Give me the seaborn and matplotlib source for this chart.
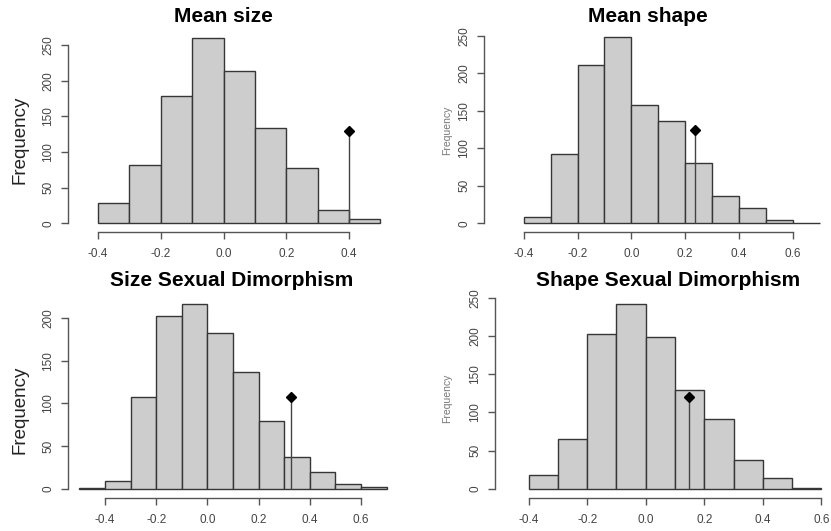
import matplotlib
matplotlib.use("Agg")
import matplotlib.pyplot as plt
import seaborn as sns
import numpy as np
import pandas as pd

# ---------------- data ----------------
titles = ["Mean size", "Mean shape", "Size Sexual Dimorphism", "Shape Sexual Dimorphism"]

edges_mean_size = [-0.4, -0.3, -0.2, -0.1, 0.0, 0.1, 0.2, 0.3, 0.4, 0.5]
counts_mean_size = [28, 82, 179, 260, 214, 134, 77, 19, 6]
obs_mean_size = (0.40, 130)

edges_mean_shape = [-0.4, -0.3, -0.2, -0.1, 0.0, 0.1, 0.2, 0.3, 0.4, 0.5, 0.6, 0.7]
counts_mean_shape = [9, 93, 211, 248, 158, 137, 80, 37, 20, 5, 1]
obs_mean_shape = (0.235, 124)

edges_size_sd = [-0.5, -0.4, -0.3, -0.2, -0.1, 0.0, 0.1, 0.2, 0.3, 0.4, 0.5, 0.6, 0.7]
counts_size_sd = [1, 9, 108, 202, 217, 182, 137, 79, 37, 20, 5, 2]
obs_size_sd = (0.325, 108)

edges_shape_sd = [-0.4, -0.3, -0.2, -0.1, 0.0, 0.1, 0.2, 0.3, 0.4, 0.5, 0.6]
counts_shape_sd = [18, 65, 203, 242, 198, 129, 91, 38, 14, 1]
obs_shape_sd = (0.147, 120)

xticks_1 = [-0.4, -0.2, 0.0, 0.2, 0.4]
xticks_2 = [-0.4, -0.2, 0.0, 0.2, 0.4, 0.6]
yticks_250 = [0, 50, 100, 150, 200, 250]
yticks_200 = [0, 50, 100, 150, 200]

# ---------------- layout ----------------
W, H = 831, 531
sns.set_theme(style="ticks")
plt.rcParams['font.family'] = ['Liberation Sans', 'DejaVu Sans']

fig = plt.figure(figsize=(W / 100, H / 100), dpi=100)
fig.patch.set_facecolor("white")

def rect(l, r, t, b):
    return [l / W, 1 - b / H, (r - l) / W, (b - t) / H]

panels = [
    dict(edges=edges_mean_size, counts=counts_mean_size, obs=obs_mean_size,
         title=titles[0], rect=rect(68, 400, 35, 232), xlim=(-0.4956, 0.5625),
         ylim=(-12.2, 264), xticks=xticks_1, yticks=yticks_250,
         tpos=(223, 17), lab=dict(x=20, y=140, big=True)),
    dict(edges=edges_mean_shape, counts=counts_mean_shape, obs=obs_mean_shape,
         title=titles[1], rect=rect(484, 828, 30, 232), xlim=(-0.5476, 0.731),
         ylim=(-11.6, 258), xticks=xticks_2, yticks=yticks_250,
         tpos=(648, 17), lab=dict(x=447, y=130, big=False)),
    dict(edges=edges_size_sd, counts=counts_size_sd, obs=obs_size_sd,
         title=titles[2], rect=rect(68, 395, 295, 498), xlim=(-0.5447, 0.733),
         ylim=(-10.9, 227), xticks=xticks_2, yticks=yticks_200,
         tpos=(232, 280), lab=dict(x=20, y=410, big=True)),
    dict(edges=edges_shape_sd, counts=counts_shape_sd, obs=obs_shape_sd,
         title=titles[3], rect=rect(495, 829, 290, 498), xlim=(-0.515, 0.626),
         ylim=(-12.0, 260), xticks=xticks_2, yticks=yticks_250,
         tpos=(668, 280), lab=dict(x=447, y=398, big=False)),
]

axis_col = "#555555"

for p in panels:
    ax = fig.add_axes(p["rect"])
    edges = [float(e) for e in p["edges"]]
    centers = [(a + b) / 2 for a, b in zip(edges[:-1], edges[1:])]
    df = pd.DataFrame({"x": centers, "w": [float(c) for c in p["counts"]]})
    sns.histplot(data=df, x="x", weights="w", bins=edges, stat="count",
                 color="#cdcdcd", edgecolor="#363636", linewidth=1.0, alpha=1.0,
                 ax=ax)
    ox, oy = p["obs"]
    ax.vlines(ox, 0, oy, color="#444444", linewidth=1.0, zorder=5)
    ax.plot([ox], [oy], marker="D", markersize=5.3, color="black", zorder=6)

    ax.set_xlim(*p["xlim"])
    ax.set_ylim(*p["ylim"])
    ax.set_xticks(p["xticks"])
    ax.set_xticklabels([f"{v:.1f}" for v in p["xticks"]])
    ax.set_yticks(p["yticks"])
    ax.set_yticklabels([str(v) for v in p["yticks"]], rotation=90, va="center")
    ax.set_xlabel("")
    ax.set_ylabel("")
    ax.set_facecolor("white")
    for s in ["top", "right"]:
        ax.spines[s].set_visible(False)
    ax.spines["bottom"].set_bounds(p["xticks"][0], p["xticks"][-1])
    ax.spines["left"].set_bounds(p["yticks"][0], p["yticks"][-1])
    for s in ["bottom", "left"]:
        ax.spines[s].set_color(axis_col)
        ax.spines[s].set_linewidth(1.0)
    ax.tick_params(axis="both", colors=axis_col, length=5, width=1.0,
                   labelsize=8.5, labelcolor="#444444")
    ax.tick_params(axis="x", pad=6.5)
    ax.tick_params(axis="y", pad=5)
    ax.grid(False)

    tx, ty = p["tpos"]
    fig.text(tx / W, 1 - ty / H, p["title"], ha="center", va="center",
             fontsize=15, fontweight="bold", color="black")
    lab = p["lab"]
    if lab["big"]:
        fig.text(lab["x"] / W, 1 - lab["y"] / H, "Frequency", rotation=90,
                 ha="center", va="center", fontsize=13.5, color="#222222")
    else:
        fig.text(lab["x"] / W, 1 - lab["y"] / H, "Frequency", rotation=90,
                 ha="center", va="center", fontsize=7.5, color="#777777")

fig.savefig("out.png", dpi=100, facecolor="white")
